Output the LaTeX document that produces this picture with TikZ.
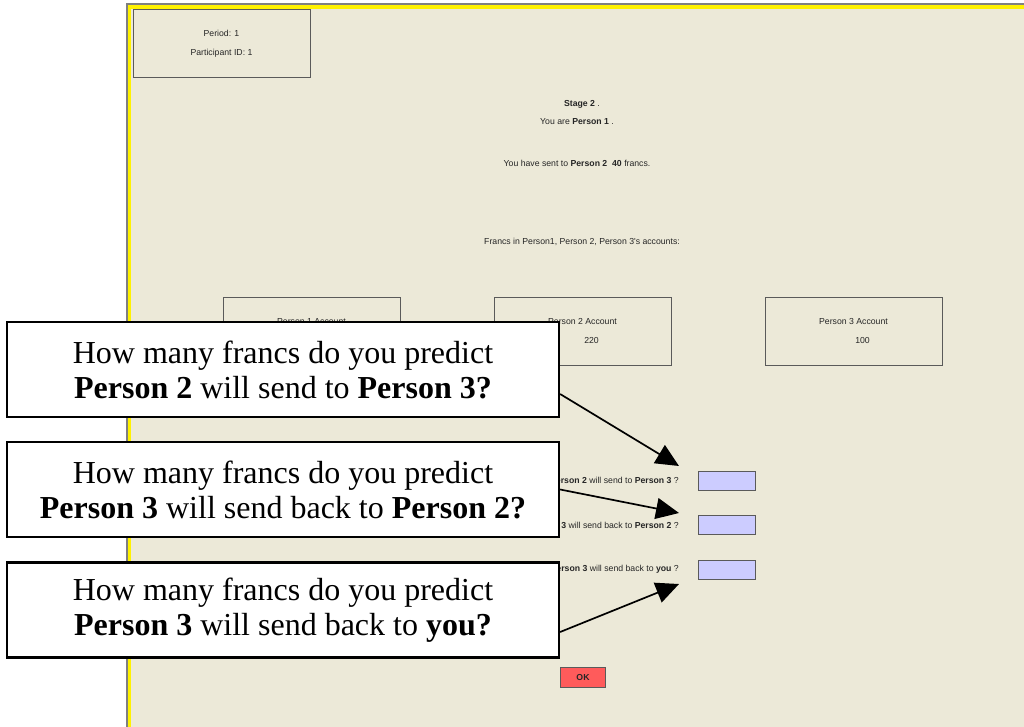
\documentclass[tikz,border=0pt]{standalone}
\usepackage{fontspec}
\setmainfont{Liberation Serif}
\newfontfamily\screenfont{Liberation Sans}
\usetikzlibrary{arrows.meta, positioning}
\definecolor{panel}{HTML}{ECE9D8}
\definecolor{inputblue}{HTML}{CCCCFF}
\definecolor{okred}{HTML}{FF5B5B}
\definecolor{framegray}{HTML}{5A5A5A}

\begin{document}
\begin{tikzpicture}
  [x=1pt, y=-1pt,
   screen/.style={font=\screenfont\fontsize{8.7}{19}\selectfont, text=black!85, inner sep=0pt},
   infobox/.style={screen, draw=framegray, line width=1pt, minimum width=177pt, minimum height=68pt, align=center},
   answer/.style={draw=framegray, fill=inputblue, line width=1pt, minimum width=57pt, minimum height=19pt, inner sep=0pt},
   callout/.style={draw=black, fill=white, line width=2.2pt, minimum width=552pt, minimum height=95pt, align=center, inner sep=0pt, font=\fontsize{32}{35}\selectfont},
   pointer/.style={-{Triangle[length=23pt,width=21pt]}, line width=1.7pt}]
  \fill[white] (0,0) rectangle (1024,727);
  \useasboundingbox (0,0) rectangle (1024,727);
  % screen panel
  \fill[panel] (127,3) rectangle (1024,727);
  \draw[yellow, line width=3.5pt] (129.5,727) -- (129.5,7.2) -- (1024,7.2);
  \draw[gray, line width=1.5pt] (127.2,727) -- (127.2,4.2) -- (1024,4.2);
  \node (period) [infobox] at (221.5,44) {Period: 1\\Participant ID: 1};
  \node (stage) [screen] at (582,104) {\textbf{Stage 2} .};
  \node (role) [screen] at (577,122) {You are \textbf{Person 1} .};
  \node (sent) [screen] at (577,163) {You have sent to \textbf{Person 2}\ \ \textbf{40} francs.};
  \node (francs) [screen] at (582,242) {Francs in Person1, Person 2, Person 3's accounts:};
  \foreach \x/\who/\amount in {311.5/1/{}, 582.5/2/220, 853.5/3/100}
    \node (acct\who) [infobox] at (\x,331) {Person \who{} Account\\\hspace*{18pt}\amount};
  % questions and answer fields
  \foreach \n/\y/\q in {1/480.5/{\textbf{Person 2} will send to \textbf{Person 3} ?},
                        2/525/{\textbf{Person 3} will send back to \textbf{Person 2} ?},
                        3/569.5/{\textbf{Person 3} will send back to \textbf{you} ?}}{
    \node (ask\n) [screen, anchor=east] at (679,\y) {\q};
    \node (answer\n) [answer] at (726.5,\y) {};
  }
  \node (ok) [screen, draw=framegray, fill=okred, line width=1pt, minimum width=45pt, minimum height=20pt] at (583,677) {\textbf{OK}};
  % callouts
  \node (predict1) [callout] at (283,369.5) {How many francs do you predict\\\textbf{Person 2} will send to \textbf{Person 3?}};
  \node (predict2) [callout] at (283,489.5) {How many francs do you predict\\\textbf{Person 3} will send back to \textbf{Person 2?}};
  \node (predict3) [callout] at (283,610) {How many francs do you predict\\\textbf{Person 3} will send back to \textbf{you?}};
  \coordinate (tip1) at (679,466);
  \coordinate (tip2) at (679,513);
  \coordinate (tip3) at (679,584);
  \draw [pointer] ([yshift=-24.5pt]predict1.east) -- (tip1);
  \draw [pointer] (predict2.east) -- (tip2);
  \draw [pointer] ([yshift=-22pt]predict3.east) -- (tip3);
\end{tikzpicture}
\end{document}
